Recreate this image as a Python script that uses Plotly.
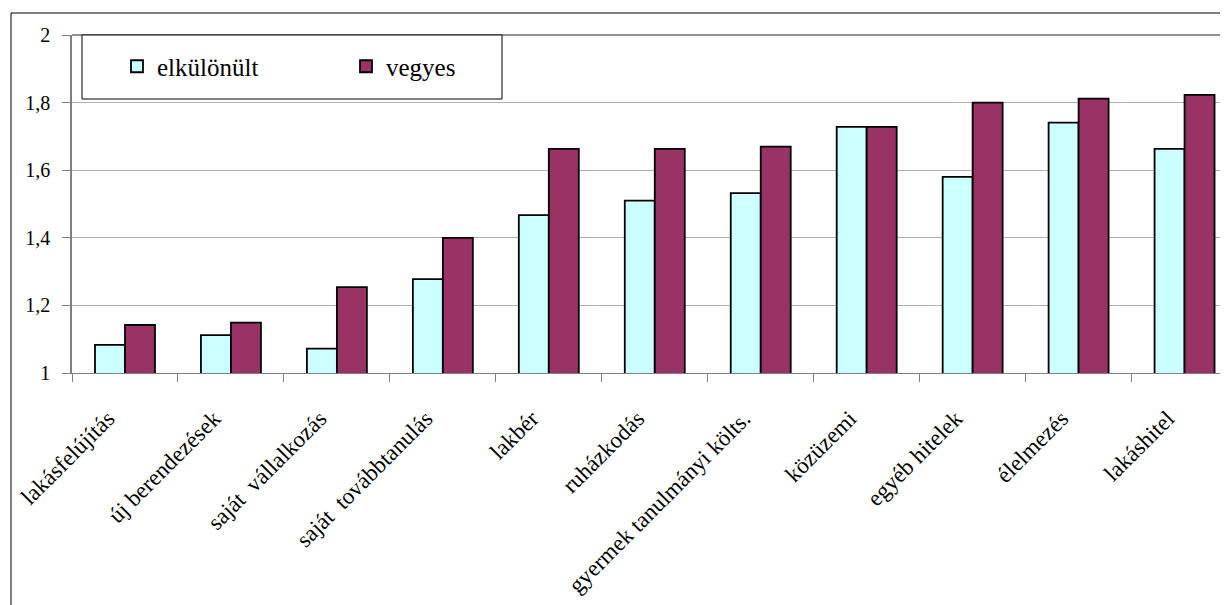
import plotly.graph_objects as go

categories = ["lakásfelújítás", "új berendezések", "saját  vállalkozás", "saját  továbbtanulás",
              "lakbér", "ruházkodás", "gyermek tanulmányi költs.", "közüzemi",
              "egyéb hitelek", "élelmezés", "lakáshitel"]
elkulonult = [1.083, 1.112, 1.072, 1.278, 1.467, 1.510, 1.532, 1.728, 1.580, 1.741, 1.663]
vegyes = [1.142, 1.149, 1.254, 1.400, 1.663, 1.663, 1.670, 1.728, 1.800, 1.812, 1.823]
y_tickvals = [1, 1.2, 1.4, 1.6, 1.8, 2]
y_ticktext = ["1", "1,2", "1,4", "1,6", "1,8", "2"]

FONT = "Liberation Serif, Times New Roman, serif"
OFF = 8  # page body margin
W, H = 1220, 597
ML, MR, MT, MB = 64, 0, 27, 232
PW = W - ML - MR
PH = H - MT - MB

def px_x(sx):
    return (sx - OFF - ML) / PW

def px_y(sy):
    return (H - MB - (sy - OFF)) / PH

fig = go.Figure()
fig.add_trace(go.Bar(name="elkülönült", x=categories, y=elkulonult,
                     marker=dict(color="#CCFFFF", line=dict(color="black", width=1.8))))
fig.add_trace(go.Bar(name="vegyes", x=categories, y=vegyes,
                     marker=dict(color="#993366", line=dict(color="black", width=1.8))))

# outer chart frame
fig.add_shape(type="rect", xref="paper", yref="paper",
              x0=px_x(11), x1=px_x(1300), y0=px_y(13), y1=px_y(700),
              line=dict(color="black", width=1), fillcolor="rgba(0,0,0,0)", layer="below")
# legend box
fig.add_shape(type="rect", xref="paper", yref="paper",
              x0=px_x(82), x1=px_x(502), y0=px_y(35), y1=px_y(99),
              line=dict(color="black", width=1), fillcolor="white", layer="above")
# top plot-area line
fig.add_shape(type="line", xref="paper", yref="paper",
              x0=0, x1=1, y0=1, y1=1, line=dict(color="#909090", width=2), layer="below")

fig.update_layout(
    width=W, height=H,
    margin=dict(l=ML, r=MR, t=MT, b=MB),
    paper_bgcolor="white", plot_bgcolor="white",
    font=dict(family=FONT, color="black", size=20),
    barmode="group", bargap=0.434, bargroupgap=0,
    showlegend=True,
    legend=dict(orientation="h", x=px_x(117), xanchor="left", y=px_y(66.5), yanchor="middle",
                font=dict(family=FONT, size=25, color="black"),
                bgcolor="rgba(0,0,0,0)", borderwidth=0, entrywidth=184, traceorder="normal"),
    xaxis=dict(range=[-0.5, 10.41], showgrid=False, showline=True, linecolor="#808080", linewidth=1,
               ticks="outside", tickson="boundaries", ticklen=8, tickcolor="#808080",
               tickangle=-45, ticklabelshift=-17, ticklabelstandoff=22,
               tickfont=dict(family=FONT, size=23, color="black"), fixedrange=True),
    yaxis=dict(range=[1, 2], tickvals=y_tickvals, ticktext=y_ticktext,
               showgrid=True, gridcolor="#b0b0b0", gridwidth=1,
               showline=True, linecolor="#808080", linewidth=1.5,
               ticks="outside", ticklen=8, tickcolor="#808080", ticklabelstandoff=8,
               tickfont=dict(family=FONT, size=20, color="black"), zeroline=False, fixedrange=True),
)

fig.write_html("out.html")
